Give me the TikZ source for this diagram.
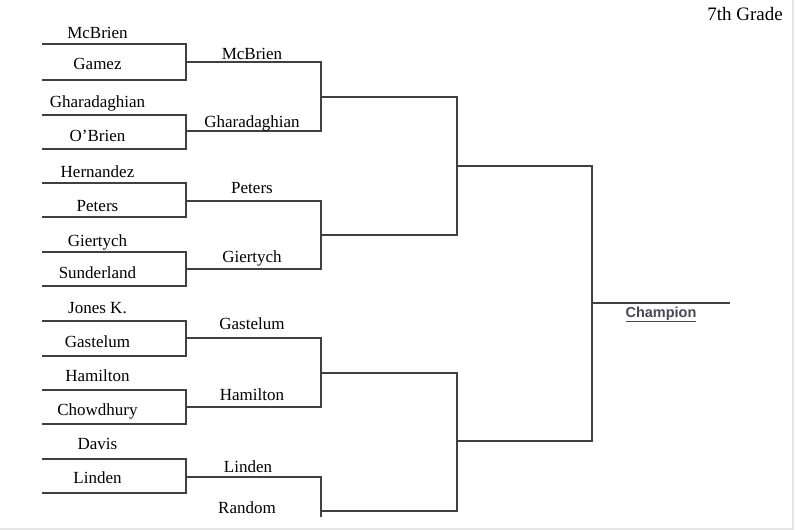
\documentclass[tikz,border=0pt]{standalone}
\usepackage{fontspec}
\setmainfont{Liberation Serif}
\newfontfamily\champfont{Liberation Sans}
\definecolor{linegray}{rgb}{0.25, 0.25, 0.25}
\definecolor{champgray}{rgb}{0.28, 0.28, 0.34}
\definecolor{framegray}{rgb}{0.9, 0.9, 0.9}

\begin{document}
\begin{tikzpicture}[x=1pt, y=-1pt,
    bracket/.style={draw=linegray, line width=1.1pt},
    player/.style={anchor=base, inner sep=0pt, font=\fontsize{17}{20}\selectfont}]
    \useasboundingbox (0,0) rectangle (795,530);
    % page edge
    \draw[framegray, line width=2pt] (793,0) -- (793,529) -- (0,529);

    % title
    \node[anchor=base east, inner sep=0pt, font=\fontsize{19}{22}\selectfont] (grade) at (783,20) {7th Grade};

    % Round 1
    \draw[bracket] (42,44) -- (186,44) -- (186,80) -- (42,80);
    \node[player] (p1) at (97.5,38) {McBrien};
    \node[player] (p2) at (97.5,69) {Gamez};
    \draw[bracket] (42,115) -- (186,115) -- (186,149) -- (42,149);
    \node[player] (p3) at (97.5,107) {Gharadaghian};
    \node[player] (p4) at (97.5,141) {O’Brien};
    \draw[bracket] (42,183) -- (186,183) -- (186,217) -- (42,217);
    \node[player] (p5) at (97.5,177) {Hernandez};
    \node[player] (p6) at (97.5,211) {Peters};
    \draw[bracket] (42,252) -- (186,252) -- (186,286) -- (42,286);
    \node[player] (p7) at (97.5,246) {Giertych};
    \node[player] (p8) at (97.5,278) {Sunderland};
    \draw[bracket] (42,321) -- (186,321) -- (186,356) -- (42,356);
    \node[player] (p9) at (97.5,313) {Jones K.};
    \node[player] (p10) at (97.5,347) {Gastelum};
    \draw[bracket] (42,390) -- (186,390) -- (186,424) -- (42,424);
    \node[player] (p11) at (97.5,381) {Hamilton};
    \node[player] (p12) at (97.5,415) {Chowdhury};
    \draw[bracket] (42,459) -- (186,459) -- (186,493) -- (42,493);
    \node[player] (p13) at (97.5,449) {Davis};
    \node[player] (p14) at (97.5,483) {Linden};

    % Round 2
    \draw[bracket] (186,62) -- (321,62) -- (321,131) -- (186,131);
    \node[player] (w1) at (252,59) {McBrien};
    \node[player] (w2) at (252,127) {Gharadaghian};
    \draw[bracket] (186,201) -- (321,201) -- (321,269) -- (186,269);
    \node[player] (w3) at (252,193) {Peters};
    \node[player] (w4) at (252,262) {Giertych};
    \draw[bracket] (186,338) -- (321,338) -- (321,407) -- (186,407);
    \node[player] (w5) at (252,329) {Gastelum};
    \node[player] (w6) at (252,400) {Hamilton};
    \draw[bracket] (186,477) -- (321,477) -- (321,517);
    \node[player] (w7) at (248,472) {Linden};
    \node[player] (bye) at (247,513) {Random};

    % Round 3
    \draw[bracket] (321,97) -- (457,97) -- (457,235) -- (321,235);
    \draw[bracket] (321,373) -- (457,373) -- (457,511) -- (321,511);

    % Round 4
    \draw[bracket] (457,166) -- (592,166) -- (592,441) -- (457,441);

    % Champion
    \draw[bracket] (592,303) -- (730,303);
    \node[anchor=base, inner sep=0pt, text=champgray, font=\champfont\bfseries\fontsize{14.5}{17}\selectfont] (champ) at (661,317) {\underline{Champion}};
\end{tikzpicture}
\end{document}
